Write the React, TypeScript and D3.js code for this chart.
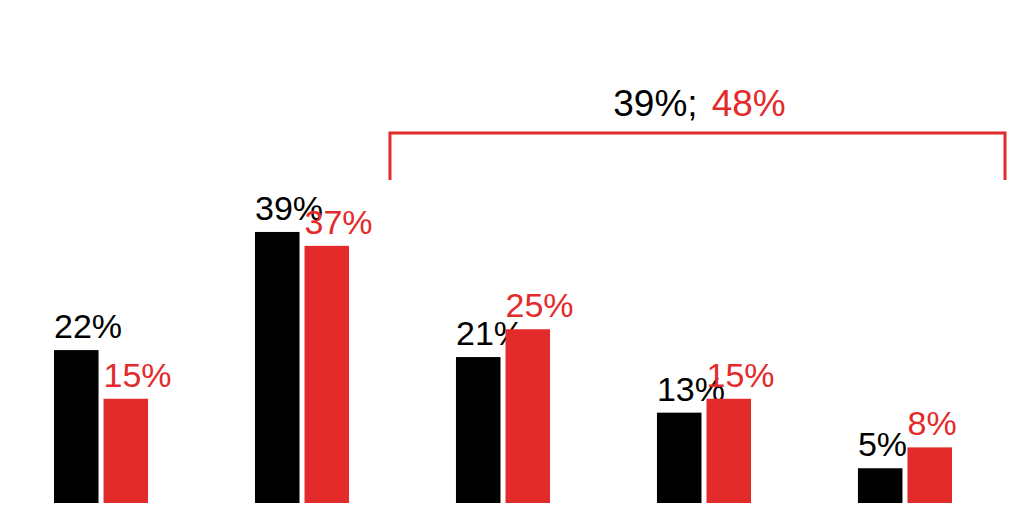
import { useEffect } from 'react';
import * as d3 from 'd3';

const groups = ['g1', 'g2', 'g3', 'g4', 'g5'];
const seriesKeys = ['black', 'red'];
const blackValues = [22, 39, 21, 13, 5];
const redValues = [15, 37, 25, 15, 8];
const bracketBlack = '39%';
const bracketRed = '48%';

const width = 1024;
const height = 512;
const red = '#e32b2b';
const font = '"Liberation Sans", Arial, Helvetica, sans-serif';

export default function App(): JSX.Element {
  useEffect(() => {
    document.body.style.margin = '0';
  }, []);

  const x = d3.scaleBand<string>().domain(groups).range([54, 54 + 4 * 201 + 94]).paddingInner(0.532).paddingOuter(0);
  const inner = d3.scaleBand<string>().domain(seriesKeys).range([0, x.bandwidth()]).paddingInner(0.101);
  const y = d3.scaleLinear().domain([0, 50]).range([503, 503 - 347.5]);

  const rows = groups.map((g, i) => ({ g, black: blackValues[i], red: redValues[i] }));

  const bracketLeft = (x('g3') ?? 0) - 66;
  const bracketRight = (x('g5') ?? 0) + x.bandwidth() + 53;
  const bracketTop = 133;
  const bracketBottom = 180;

  return (
    <svg width={width} height={height} style={{ display: 'block', background: '#fff' }} fontFamily={font}>
      {rows.map((r) => (
        <g key={r.g} transform={`translate(${x(r.g)},0)`}>
          {seriesKeys.map((k) => {
            const v = k === 'black' ? r.black : r.red;
            const bx = inner(k) ?? 0;
            const fill = k === 'black' ? '#000' : red;
            return (
              <g key={k}>
                <rect x={bx} y={y(v)} width={inner.bandwidth()} height={y(0) - y(v)} fill={fill} />
                <text x={bx} y={y(v) - 12} fontSize={34} fill={fill}>
                  {v}%
                </text>
              </g>
            );
          })}
        </g>
      ))}
      <path
        d={`M${bracketLeft},${bracketBottom}V${bracketTop}H${bracketRight}V${bracketBottom}`}
        fill="none"
        stroke={red}
        strokeWidth={3}
      />
      <text x={(bracketLeft + bracketRight) / 2 + 2} y={116} fontSize={37} textAnchor="middle">
        <tspan fill="#000">{bracketBlack};</tspan>
        <tspan fill={red} dx={14}>{bracketRed}</tspan>
      </text>
    </svg>
  );
}
